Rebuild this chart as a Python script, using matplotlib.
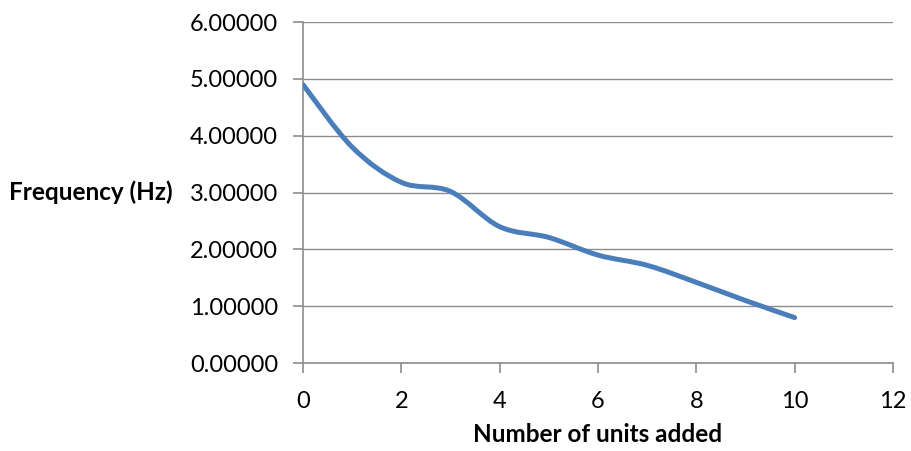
import numpy as np
import matplotlib.pyplot as plt
from matplotlib.path import Path
from matplotlib.patches import PathPatch

# data
units_added = [0, 1, 2, 3, 4, 5, 6, 7, 8, 9, 10]
frequency_hz = [4.90, 3.80, 3.18, 3.02, 2.40, 2.21, 1.90, 1.72, 1.42, 1.10, 0.80]

x_ticks = [0, 2, 4, 6, 8, 10, 12]
y_ticks = [0, 1, 2, 3, 4, 5, 6]

plt.rcParams['font.family'] = ['Lato', 'DejaVu Sans']

LINE_COLOR = '#4A7EBB'
GRID_COLOR = '#8C8C8C'


def smooth_path(xs, ys):
    # Excel style smoothed line: cubic bezier through every point
    xs = np.asarray(xs, float)
    ys = np.asarray(ys, float)
    n = len(xs)
    verts = [(xs[0], ys[0])]
    codes = [Path.MOVETO]
    for i in range(n - 1):
        i0 = max(i - 1, 0)
        i3 = min(i + 2, n - 1)
        c1 = (xs[i] + (xs[i + 1] - xs[i0]) / 6, ys[i] + (ys[i + 1] - ys[i0]) / 6)
        c2 = (xs[i + 1] - (xs[i3] - xs[i]) / 6, ys[i + 1] - (ys[i3] - ys[i]) / 6)
        verts += [c1, c2, (xs[i + 1], ys[i + 1])]
        codes += [Path.CURVE4] * 3
    return Path(verts, codes)


fig = plt.figure(figsize=(9.11, 4.51), dpi=100)
ax = fig.add_axes([0.3326, 0.195, 0.6476, 0.756])

patch = PathPatch(smooth_path(units_added, frequency_hz), facecolor='none',
                  edgecolor=LINE_COLOR, linewidth=3.6, capstyle='round',
                  joinstyle='round', zorder=3)
ax.add_patch(patch)

ax.set_xlim(0, 12)
ax.set_ylim(0, 6)
ax.set_xticks(x_ticks)
ax.set_yticks(y_ticks)
ax.set_yticklabels([f'{v:.5f}' for v in y_ticks])

ax.yaxis.grid(True, color=GRID_COLOR, linewidth=1.0)
ax.set_axisbelow(True)
for side in ['top', 'right']:
    ax.spines[side].set_visible(False)
for side in ['left', 'bottom']:
    ax.spines[side].set_color(GRID_COLOR)
    ax.spines[side].set_linewidth(1.2)

ax.tick_params(axis='both', colors=GRID_COLOR, labelcolor='black',
               labelsize=17, length=7, width=1.2)
ax.tick_params(axis='y', pad=11)
ax.tick_params(axis='x', pad=13)

ax.set_xlabel('Number of units added', fontsize=17.5, fontweight='bold', labelpad=8)
ax.set_ylabel('Frequency (Hz)', fontsize=17.5, fontweight='bold', rotation=0,
              ha='right', va='center', labelpad=12)

fig.savefig('out.png', dpi=100)
